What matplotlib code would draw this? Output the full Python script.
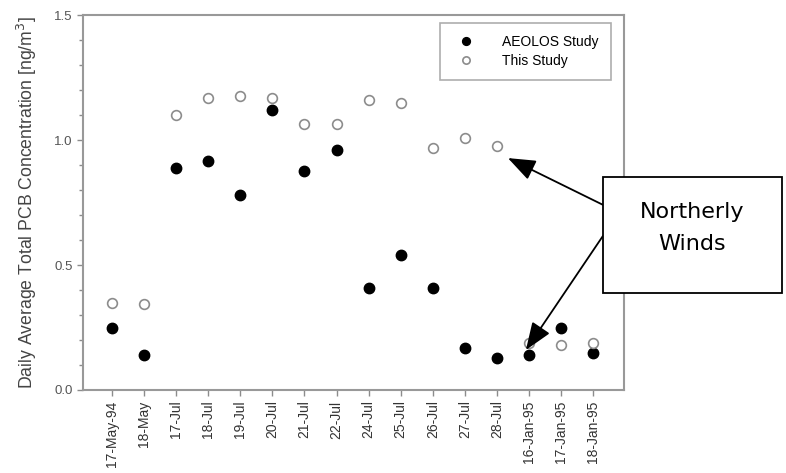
import numpy as np
import matplotlib.pyplot as plt
from matplotlib.patches import Rectangle
from matplotlib.ticker import MultipleLocator

plt.rcParams['font.family'] = ['Liberation Sans', 'DejaVu Sans']

dates = ['17-May-94', '18-May', '17-Jul', '18-Jul', '19-Jul', '20-Jul', '21-Jul',
         '22-Jul', '24-Jul', '25-Jul', '26-Jul', '27-Jul', '28-Jul',
         '16-Jan-95', '17-Jan-95', '18-Jan-95']
aeolos = [0.25, 0.14, 0.89, 0.915, 0.78, 1.12, 0.877, 0.96,
          0.41, 0.54, 0.41, 0.17, 0.13, 0.14, 0.25, 0.15]
this_study = [0.35, 0.345, 1.10, 1.17, 1.175, 1.17, 1.064, 1.064,
              1.16, 1.15, 0.97, 1.01, 0.975, 0.19, 0.18, 0.19]

grey = '#8c8c8c'

fig = plt.figure(figsize=(7.86, 4.73), dpi=100)
ax = fig.add_axes([0.1056, 0.1755, 0.688, 0.7925])

x = np.arange(len(dates))
ax.plot(x, aeolos, 'o', color='black', markersize=7.5, label='AEOLOS Study')
ax.plot(x, this_study, 'o', markerfacecolor='white', markeredgecolor=grey,
        markeredgewidth=1.2, markersize=7, label='This Study')

ax.set_xlim(-0.9, 15.95)
ax.set_ylim(0, 1.5)
ax.set_xticks(x)
ax.set_xticklabels(dates, rotation=90, fontsize=10, color='#333333')
ax.yaxis.set_minor_locator(MultipleLocator(0.1))
ax.set_yticks([0, 0.5, 1.0, 1.5])
ax.set_yticklabels(['0.0', '0.5', '1.0', '1.5'], fontsize=9.5, color='#555555')
ax.tick_params(direction='out', length=4, width=1, color=grey)
ax.tick_params(which='minor', direction='out', length=3, width=1, color=grey)
for s in ax.spines.values():
    s.set_color('#999999')
    s.set_linewidth(1.5)

ax.set_ylabel('Daily Average Total PCB Concentration [ng/m$^3$]', fontsize=12.7,
              color='#444444', labelpad=11)

leg = ax.legend(loc='upper right', bbox_to_anchor=(0.977, 0.98), fontsize=10,
                frameon=True, fancybox=False, handletextpad=1.6, markerscale=0.75,
                borderpad=0.9, labelspacing=0.35, borderaxespad=0)
leg.get_frame().set_edgecolor('#999999')
leg.get_frame().set_linewidth(1.2)

# annotation box
fig.patches.append(Rectangle((0.767, 0.381), 0.228, 0.245, transform=fig.transFigure,
                             facecolor='white', edgecolor='black', linewidth=1.3,
                             zorder=5))
fig.text(0.881, 0.518, 'Northerly\nWinds', ha='center', va='center', fontsize=16,
         family='DejaVu Sans', linespacing=1.75, zorder=6)

arrow = dict(arrowstyle='-|>,head_length=1.7,head_width=0.65', color='black',
             lw=1.3, shrinkA=0, shrinkB=0)
ax.annotate('', xy=(12.34, 0.928), xycoords='data',
            xytext=(0.767, 0.567), textcoords='figure fraction',
            arrowprops=arrow, annotation_clip=False)
ax.annotate('', xy=(12.9, 0.16), xycoords='data',
            xytext=(0.767, 0.501), textcoords='figure fraction',
            arrowprops=arrow, annotation_clip=False)

fig.savefig('out.png', dpi=100)
